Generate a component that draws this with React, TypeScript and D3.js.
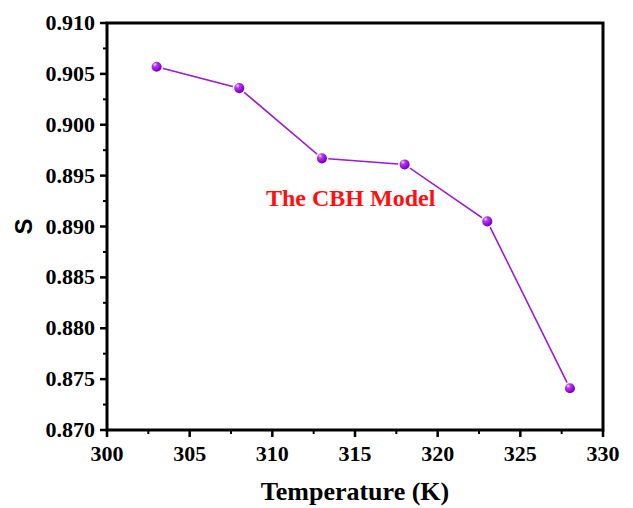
import React from "react";
import * as d3 from "d3";

const temperatures = [303, 308, 313, 318, 323, 328];
const sValues = [0.9057, 0.9036, 0.8967, 0.8961, 0.8905, 0.8741];
const xTicks = [300, 305, 310, 315, 320, 325, 330];
const yTicks = [0.87, 0.875, 0.88, 0.885, 0.89, 0.895, 0.9, 0.905, 0.91];

const W = 633, H = 508;
const M = { left: 107, right: 603, top: 23, bottom: 430 };

export default function App() {
  const x = d3.scaleLinear().domain([300, 330]).range([M.left, M.right]);
  const y = d3.scaleLinear().domain([0.87, 0.91]).range([M.bottom, M.top]);
  const line = d3.line<number>().x((_, i) => x(temperatures[i])).y((d) => y(d));
  const xMinor = d3.range(302.5, 330, 5);
  const yMinor = d3.range(0, 8).map((i) => 0.8725 + i * 0.005);
  const serif: React.CSSProperties = { fontFamily: "Liberation Serif, Times New Roman, DejaVu Serif, serif", fontWeight: 700 };
  return (
    <svg width={W} height={H} style={{ position: "absolute", left: 0, top: 0, background: "#fff" }}>
      <defs>
        <radialGradient id="ball" cx="0.35" cy="0.3" r="0.75">
          <stop offset="0" stopColor="#f5dcff" />
          <stop offset="0.25" stopColor="#b43cf2" />
          <stop offset="0.7" stopColor="#9000d4" />
          <stop offset="1" stopColor="#620092" />
        </radialGradient>
      </defs>
      <rect x={0} y={0} width={W} height={H} fill="#fff" />
      <path d={line(sValues) || ""} fill="none" stroke="#9a1ad6" strokeWidth={1.6} />
      {sValues.map((v, i) => (
        <circle key={i} cx={x(temperatures[i])} cy={y(v)} r={5.8} fill="url(#ball)" stroke="#fff" strokeWidth={1.5} />
      ))}
      <rect x={M.left} y={M.top} width={M.right - M.left} height={M.bottom - M.top} fill="none" stroke="#000" strokeWidth={3} />
      {xTicks.map((t) => (
        <g key={t}>
          <line x1={x(t)} x2={x(t)} y1={M.bottom} y2={M.bottom + 7} stroke="#000" strokeWidth={2.5} />
          <text x={x(t)} y={M.bottom + 31} textAnchor="middle" style={serif} fontSize={22}>{t}</text>
        </g>
      ))}
      {xMinor.map((t) => (
        <line key={t} x1={x(t)} x2={x(t)} y1={M.bottom} y2={M.bottom + 4} stroke="#000" strokeWidth={2} />
      ))}
      {yTicks.map((t) => (
        <g key={t}>
          <line x1={M.left - 7} x2={M.left} y1={y(t)} y2={y(t)} stroke="#000" strokeWidth={2.5} />
          <text x={M.left - 12} y={y(t) + 7} textAnchor="end" style={serif} fontSize={22}>{t.toFixed(3)}</text>
        </g>
      ))}
      {yMinor.map((t) => (
        <line key={t} x1={M.left - 4} x2={M.left} y1={y(t)} y2={y(t)} stroke="#000" strokeWidth={2} />
      ))}
      <text x={(M.left + M.right) / 2} y={500} textAnchor="middle" style={serif} fontSize={26}>Temperature (K)</text>
      <text transform={`translate(32,${(M.top + M.bottom) / 2}) rotate(-90)`} textAnchor="middle" style={{ fontFamily: "Liberation Sans, Arial, sans-serif", fontWeight: 700 }} fontSize={24}>S</text>
      <text x={266} y={206} style={serif} fontSize={24} fill="#ff1010">The CBH Model</text>
    </svg>
  );
}
